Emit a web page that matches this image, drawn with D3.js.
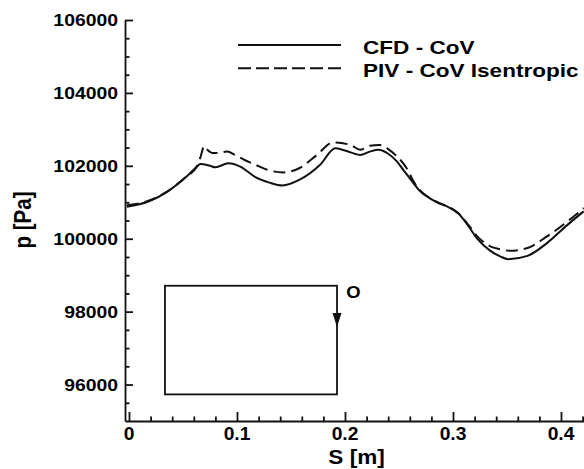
<!DOCTYPE html>
<html>
<head>
<meta charset="utf-8">
<script src="https://cdn.jsdelivr.net/npm/d3@7"></script>
<style>
	body { margin: 0; background: #fff; }
	svg text { font-family: "Liberation Sans", Arial, sans-serif; font-weight: bold; fill: #000; }
</style>
</head>
<body>
<svg id="chart" width="584" height="469"></svg>
<script>

	/* Data */
	let seriesNames = ["CFD - CoV", "PIV - CoV Isentropic"];

	let cfdS = [-0.002, 0.018, 0.036, 0.052, 0.063, 0.066, 0.075, 0.080, 0.092, 0.103,
		0.117, 0.130, 0.142, 0.158, 0.177, 0.191, 0.200, 0.214, 0.223, 0.231,
		0.240, 0.248, 0.254, 0.263, 0.269, 0.279, 0.288, 0.295, 0.305, 0.314,
		0.323, 0.334, 0.344, 0.351, 0.369, 0.387, 0.406, 0.421];
	let cfdP = [100880, 101020, 101300, 101670, 101980, 102050, 102000, 101960, 102070, 101980,
		101690, 101540, 101460, 101620, 102030, 102480, 102420, 102300, 102390, 102440,
		102330, 102120, 101890, 101540, 101320, 101100, 100960, 100880, 100690, 100360,
		99980, 99680, 99510, 99440, 99530, 99880, 100380, 100750];

	let pivS = [-0.002, 0.018, 0.036, 0.052, 0.063, 0.0665, 0.0695, 0.073, 0.078, 0.084,
		0.091, 0.098, 0.107, 0.117, 0.128, 0.143, 0.158, 0.174, 0.189, 0.205,
		0.214, 0.223, 0.232, 0.240, 0.248, 0.257, 0.263, 0.269, 0.279, 0.288,
		0.295, 0.305, 0.314, 0.323, 0.334, 0.344, 0.353, 0.369, 0.387, 0.406, 0.421];
	let pivP = [100920, 101040, 101310, 101680, 101990, 102270, 102540, 102430, 102350, 102360,
		102390, 102300, 102160, 102030, 101890, 101820, 101940, 102300, 102640, 102575,
		102440, 102550, 102570, 102460, 102260, 101940, 101600, 101340, 101110, 100970,
		100890, 100700, 100390, 100050, 99800, 99710, 99670, 99745, 100063, 100475, 100840];

	let xTicks = [0, 0.1, 0.2, 0.3, 0.4];
	let yTicks = [96000, 98000, 100000, 102000, 104000, 106000];

	// Inset sketch of the contour (corners in S / p units), arrow and origin label
	let insetS = [0.0333, 0.1926];
	let insetP = [95730, 98710];
	let arrowP = [97960, 97580];
	let originLabel = "O";

	let svg = d3.select("#chart");
	let ink = "#111";

	let x = d3.scaleLinear().domain([-0.0037, 0.4213]).range([125, 584]);
	let y = d3.scaleLinear().domain([95000, 106000]).range([421, 20]);

	// Minor tick positions
	let xMinor = d3.range(1, 22).map(function(i) { return i * 0.02; })
		.filter(function(v) { return Math.round(v * 100) % 10 !== 0; });
	let yMinor = d3.range(95500, 106000, 500)
		.filter(function(v) { return v % 2000 !== 0; });

	/* Axes */
	let xAxisG = svg.append("g").attr("transform", "translate(0," + y(95000) + ")");
	xAxisG.call(d3.axisBottom(x).tickValues(xTicks).tickSizeInner(-9).tickSizeOuter(0).tickFormat(""));
	xAxisG.append("g")
		.call(d3.axisBottom(x).tickValues(xMinor).tickSizeInner(-4.5).tickSizeOuter(0).tickFormat(""))
		.call(function(g) { g.select(".domain").remove(); });

	let yAxisG = svg.append("g").attr("transform", "translate(125,0)");
	yAxisG.call(d3.axisLeft(y).tickValues(yTicks).tickSizeInner(-8).tickSizeOuter(0).tickFormat(""));
	yAxisG.append("g")
		.call(d3.axisLeft(y).tickValues(yMinor).tickSizeInner(-4.5).tickSizeOuter(0).tickFormat(""))
		.call(function(g) { g.select(".domain").remove(); });

	svg.selectAll(".domain, .tick line")
		.attr("stroke", ink)
		.attr("stroke-width", 1.8);

	// Tick labels (the figure's lettering is slightly stretched sideways)
	svg.append("g").selectAll("text")
		.data(xTicks)
		.enter()
		.append("text")
		.attr("text-anchor", "middle")
		.attr("font-size", 17.5)
		.attr("transform", function(d) { return "translate(" + x(d) + ",439.5) scale(1.1,1)"; })
		.text(function(d) { return d === 0 ? "0" : d3.format(".1f")(d); });

	svg.append("g").selectAll("text")
		.data(yTicks)
		.enter()
		.append("text")
		.attr("text-anchor", "end")
		.attr("font-size", 17)
		.attr("transform", function(d) { return "translate(118," + (y(d) + 6) + ") scale(1.14,1)"; })
		.text(function(d) { return d; });

	// Axis titles
	svg.append("text")
		.attr("text-anchor", "middle")
		.attr("font-size", 20.5)
		.attr("transform", "translate(356.5,463.5) scale(1.1,1)")
		.text("S [m]");

	svg.append("text")
		.attr("text-anchor", "middle")
		.attr("font-size", 20.5)
		.attr("transform", "translate(31,220) scale(1.15,1) rotate(-90)")
		.text("p [Pa]");

	/* Curves */
	svg.append("clipPath").attr("id", "plotClip")
		.append("rect")
		.attr("x", 125).attr("y", 20)
		.attr("width", 459).attr("height", 401);

	let line = d3.line()
		.x(function(d) { return x(d[0]); })
		.y(function(d) { return y(d[1]); })
		.curve(d3.curveMonotoneX);

	let series = [
		{ key: seriesNames[0], values: d3.zip(cfdS, cfdP), dash: null },
		{ key: seriesNames[1], values: d3.zip(pivS, pivP), dash: "12,6" }
	];

	svg.append("g")
		.attr("clip-path", "url(#plotClip)")
		.selectAll("path")
		.data(series)
		.enter()
		.append("path")
		.attr("d", function(d) { return line(d.values); })
		.attr("fill", "none")
		.attr("stroke", ink)
		.attr("stroke-width", 2)
		.attr("stroke-dasharray", function(d) { return d.dash; });

	/* Legend */
	let legend = svg.append("g").selectAll("g")
		.data(series)
		.enter()
		.append("g")
		.attr("transform", function(d, i) { return "translate(0," + (i * 23.3) + ")"; });

	legend.append("line")
		.attr("x1", 238).attr("x2", 341)
		.attr("y1", 45).attr("y2", 45)
		.attr("stroke", ink)
		.attr("stroke-width", 2)
		.attr("stroke-dasharray", function(d) { return d.dash ? "13,5" : null; });

	legend.append("text")
		.attr("font-size", 18.5)
		.attr("transform", "translate(363,54) scale(1.22,1)")
		.text(function(d) { return d.key; });

	/* Inset */
	svg.append("rect")
		.attr("x", x(insetS[0]))
		.attr("y", y(insetP[1]))
		.attr("width", x(insetS[1]) - x(insetS[0]))
		.attr("height", y(insetP[0]) - y(insetP[1]))
		.attr("fill", "none")
		.attr("stroke", ink)
		.attr("stroke-width", 1.8);

	let ax = x(insetS[1]);
	svg.append("path")
		.attr("d", "M" + (ax - 4.5) + "," + y(arrowP[0]) + "L" + (ax + 4.5) + "," + y(arrowP[0]) + "L" + ax + "," + y(arrowP[1]) + "Z")
		.attr("fill", ink);

	svg.append("text")
		.attr("text-anchor", "middle")
		.attr("font-size", 16)
		.attr("transform", "translate(" + (ax + 16.5) + ",297.5) scale(1.15,1)")
		.text(originLabel);

</script>
</body>
</html>
